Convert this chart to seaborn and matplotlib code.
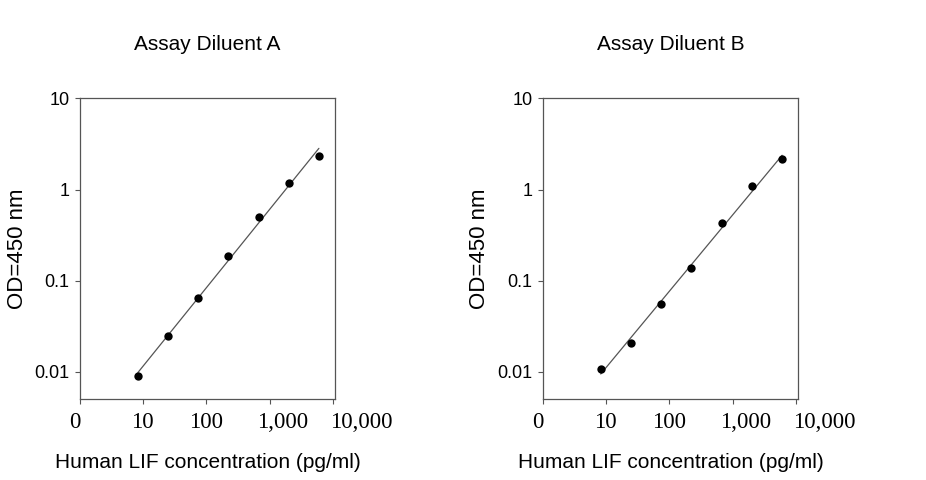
import matplotlib
matplotlib.use("Agg")
import matplotlib.pyplot as plt
import matplotlib.transforms as mtransforms
import numpy as np
import pandas as pd
import seaborn as sns

# standard curve: 3-fold dilution series (pg/ml)
conc = [8.23, 24.7, 74.1, 222, 667, 2000, 6000]
od_a = [0.0090, 0.0246, 0.0647, 0.187, 0.494, 1.17, 2.33]
od_b = [0.0109, 0.0210, 0.0552, 0.138, 0.425, 1.09, 2.14]
titles = ["Assay Diluent A", "Assay Diluent B"]
x_ticks = [1, 10, 100, 1000, 10000]
x_ticklabels = ["0", "10", "100", "1,000", "10,000"]
y_ticks = [0.01, 0.1, 1, 10]
y_ticklabels = ["0.01", "0.1", "1", "10"]

sns.set_theme(style="ticks")
plt.rcParams['font.family'] = ['Liberation Sans', 'DejaVu Sans']
plt.rcParams['text.color'] = 'black'
plt.rcParams['axes.labelcolor'] = 'black'

fig = plt.figure(figsize=(9.26, 4.80), dpi=100)
axes = [fig.add_axes([0.0864, 0.168, 0.2754, 0.627]),
        fig.add_axes([0.5861, 0.168, 0.2760, 0.627])]

# horizontal nudges of the x tick labels (px) as in the original
label_shift = [-5, -1, 0, 13, 28]

for ax, od, title in zip(axes, [od_a, od_b], titles):
    df = pd.DataFrame({'conc': conc, 'od': od})

    # log-log linear fit
    k, b = np.polyfit(np.log10(df['conc']), np.log10(df['od']), 1)
    xs = np.array([df['conc'].min(), df['conc'].max()])
    ax.plot(xs, 10 ** (b + k * np.log10(xs)), color='#555555', lw=0.9, zorder=2)

    sns.scatterplot(data=df, x='conc', y='od', ax=ax, color='black',
                    s=36, edgecolor='black', linewidth=0, zorder=3)

    ax.set_xscale('log')
    ax.set_yscale('log')
    ax.set_xlim(1, 10800)
    ax.set_ylim(0.005, 10)
    ax.minorticks_off()

    ax.set_xticks(x_ticks)
    ax.set_xticklabels([])
    ax.set_yticks(y_ticks)
    ax.set_yticklabels(y_ticklabels, fontsize=13)

    # x tick labels in a serif face, nudged like the original
    for xv, txt, dx in zip(x_ticks, x_ticklabels, label_shift):
        off = mtransforms.ScaledTranslation(dx / 100, -13 / 100, fig.dpi_scale_trans)
        ax.text(xv, 0, txt, transform=ax.get_xaxis_transform() + off,
                ha='center', va='top', fontsize=16.5,
                family=['Liberation Serif', 'DejaVu Serif'])

    ax.tick_params(axis='both', direction='out', length=3.5, width=0.8,
                   color='#555555', labelcolor='black')
    ax.tick_params(axis='y', pad=4)

    for side in ['left', 'bottom', 'top', 'right']:
        ax.spines[side].set_visible(True)
        ax.spines[side].set_color('#555555')
        ax.spines[side].set_linewidth(0.9)

    ax.set_title(title, fontsize=15, pad=35)
    ax.set_xlabel('Human LIF concentration (pg/ml)', fontsize=15, labelpad=31.5)
    ax.set_ylabel('OD=450 nm', fontsize=16, labelpad=5)
    ax.grid(False)

fig.savefig('out.png', dpi=100, facecolor='white')
